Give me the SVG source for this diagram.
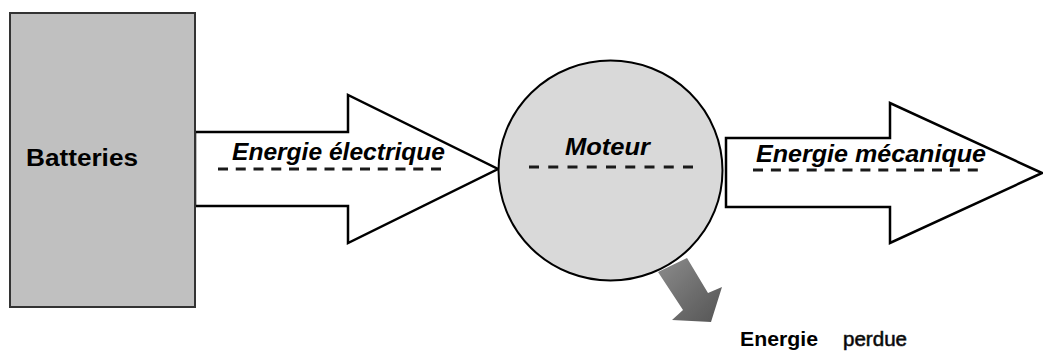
<svg xmlns="http://www.w3.org/2000/svg" width="1043" height="354" viewBox="0 0 1043 354">
<style>
.blk{fill:#fff;stroke:#000;stroke-width:2.5;stroke-linejoin:miter}
.dash{stroke:#1a1a1a;stroke-width:2.8;fill:none}
.lbl{font-family:"Liberation Sans",Arial,sans-serif;font-weight:bold;font-style:italic;fill:#000}
.txt{font-family:"Liberation Sans",Arial,sans-serif;fill:#000}
</style>
<defs>
<linearGradient id="gloss" x1="0" y1="0" x2="1" y2="1">
<stop offset="0" stop-color="#8c8c8c"/>
<stop offset="0.6" stop-color="#6a6a6a"/>
<stop offset="1" stop-color="#555"/>
</linearGradient>
</defs>
<rect width="1043" height="354" fill="#fff"/>
<g id="connectors">
<g id="arrow-electrique">
<polygon class="blk" points="195,132 348,132 348,95 498,169 348,243 348,206 195,206"/>
<text class="lbl" x="232" y="160" font-size="23" textLength="213" lengthAdjust="spacingAndGlyphs">Energie électrique</text>
<line class="dash" x1="218" y1="169" x2="442" y2="169" stroke-dasharray="10 7.75"/>
</g>
<g id="arrow-mecanique">
<polygon class="blk" points="726,138 890,138 890,103 1042,173 890,243 890,207 726,207"/>
<text class="lbl" x="756" y="162" font-size="23" textLength="230" lengthAdjust="spacingAndGlyphs">Energie mécanique</text>
<line class="dash" x1="753" y1="170" x2="978" y2="170" stroke-dasharray="10 7.9"/>
</g>
<g id="arrow-perte">
<polygon points="658,272 687,258 708,293 722,287 711,322 672,320 683,310" fill="url(#gloss)"/>
</g>
</g>
<g id="batteries">
<rect x="10" y="13" width="185" height="294" fill="#c0c0c0" stroke="#333" stroke-width="2"/>
<text class="txt" x="26" y="166" font-size="24" font-weight="bold" textLength="112" lengthAdjust="spacingAndGlyphs">Batteries</text>
</g>
<g id="moteur">
<ellipse cx="610.5" cy="170.5" rx="112" ry="110" fill="#d9d9d9" stroke="#000" stroke-width="2"/>
<text class="lbl" x="565" y="155" font-size="24" textLength="85" lengthAdjust="spacingAndGlyphs">Moteur</text>
<line class="dash" x1="529" y1="167" x2="693" y2="167" stroke-dasharray="10 9.25"/>
</g>
<g id="energie-perdue">
<text class="txt" x="740" y="346" font-size="20" font-weight="bold" textLength="78" lengthAdjust="spacingAndGlyphs">Energie</text>
<text class="txt" x="843" y="346" font-size="20" fill="#222" stroke="#222" stroke-width="0.6" textLength="64" lengthAdjust="spacingAndGlyphs">perdue</text>
</g>
</svg>
